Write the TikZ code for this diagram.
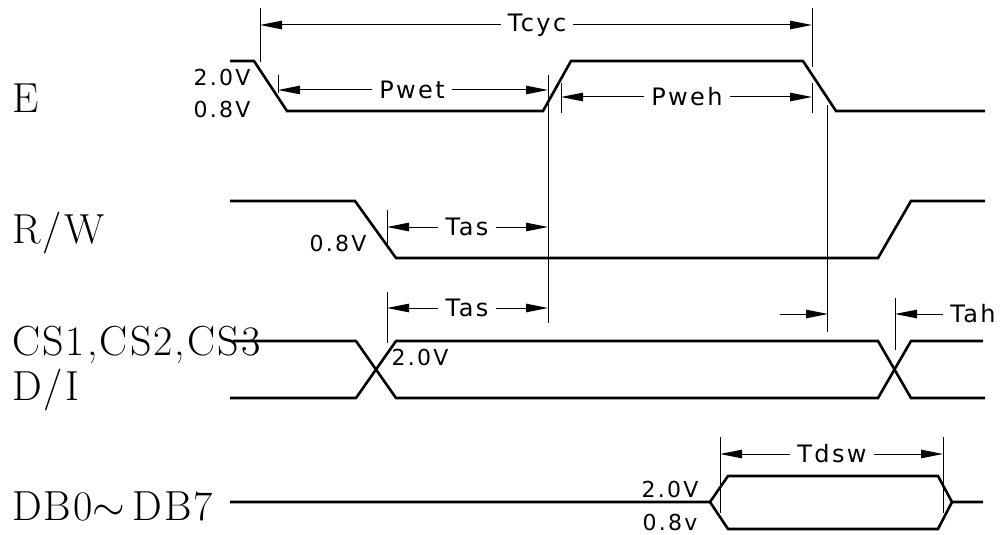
\RequirePackage{fix-cm}
\documentclass[tikz,border=0pt]{standalone}
\usepackage{fontspec}
\usetikzlibrary{arrows.meta}
\newfontfamily\cadfont{DejaVu Sans}[LetterSpace=10]
\newfontfamily\namefont{Latin Modern Roman}[LetterSpace=5]
\begin{document}
\begin{tikzpicture}[x=1pt,y=-1pt,
  sig/.style={line width=2.6pt, line join=miter},
  ext/.style={line width=1pt},
  dim/.style={line width=1pt,-{Triangle[length=22pt,width=8.5pt]}},
  dimtxt/.style={font=\cadfont\fontsize{24}{24}\selectfont, inner xsep=7pt, inner ysep=0pt},
  volt/.style={font=\cadfont\fontsize{22}{22}\selectfont, inner sep=0pt},
  signame/.style={font=\namefont\fontsize{42}{42}\selectfont, anchor=base west, inner sep=0pt}]
\useasboundingbox (0,0) rectangle (1002,535);

% signal names
\node[signame] (nE)  at (12,112) {E};
\node[signame] (nRW) at (12,243) {R/W};
\node[signame] (nCS) at (12,355) {CS1,CS2,CS3};
\node[signame] (nDI) at (12,400) {D/I};
\node[signame] (nDB) at (12,520) {DB0$\sim$\,DB7};

% waveforms
\draw[sig] (230,61) -- (254,61) -- (287,111) -- (543,111) -- (571,61) -- (803,61) -- (836,111) -- (985,111);
\draw[sig] (230,201) -- (355,201) -- (396,258) -- (878,258) -- (911,201) -- (985,201);
\draw[sig] (233,341) -- (356,341) -- (396,398) -- (878,398) -- (911,341) -- (983,341);
\draw[sig] (230,398) -- (356,398) -- (396,341) -- (878,341) -- (911,398) -- (985,398);
\draw[sig] (230,502) -- (710,502) -- (728,476) -- (938,476) -- (952,502) -- (983,502);
\draw[sig] (710,502) -- (728,529) -- (938,529) -- (952,502);

% extension lines
\draw[ext] (260,8) -- (260,62);
\draw[ext] (812,8) -- (812,67);
\draw[ext] (278,75) -- (278,93);
\draw[ext] (548,75) -- (548,323);
\draw[ext] (561,83) -- (561,113);
\draw[ext] (812,83) -- (812,113);
\draw[ext] (827,105) -- (827,332);
\draw[ext] (387,210) -- (387,245);
\draw[ext] (387,292) -- (387,343);
\draw[ext] (895,298) -- (895,350);
\draw[ext] (720,437) -- (720,513);
\draw[ext] (943,437) -- (943,513);

% arrow end points
\coordinate (tcycA) at (260,25);
\coordinate (tcycB) at (812,25);
\coordinate (pwetA) at (278,90);
\coordinate (pwetB) at (548,90);
\coordinate (pwehA) at (561,97);
\coordinate (pwehB) at (812,97);
\coordinate (tas1A) at (387,227);
\coordinate (tas1B) at (548,227);
\coordinate (tas2A) at (387,308);
\coordinate (tas2B) at (548,308);
\coordinate (tahA)  at (895,314);
\coordinate (tahS)  at (780,314);
\coordinate (tahE)  at (828,314);
\coordinate (tdswA) at (720,454);
\coordinate (tdswB) at (943,454);

% dimension labels
\node[dimtxt] (tcyc) at (537,25) {Tcyc};
\node[dimtxt] (pwet) at (412,90) {Pwet};
\node[dimtxt] (pweh) at (687,97) {Pweh};
\node[dimtxt] (tas1) at (467,227) {Tas};
\node[dimtxt] (tas2) at (467,308) {Tas};
\node[dimtxt] (tah)  at (973,314) {Tah};
\node[dimtxt] (tdsw) at (832,454) {Tdsw};

\draw[dim] (tcyc.west) -- (tcycA);
\draw[dim] (tcyc.east) -- (tcycB);
\draw[dim] (pwet.west) -- (pwetA);
\draw[dim] (pwet.east) -- (pwetB);
\draw[dim] (pweh.west) -- (pwehA);
\draw[dim] (pweh.east) -- (pwehB);
\draw[dim] (tas1.west) -- (tas1A);
\draw[dim] (tas1.east) -- (tas1B);
\draw[dim] (tas2.west) -- (tas2A);
\draw[dim] (tas2.east) -- (tas2B);
\draw[dim] (tah.west) -- (tahA);
\draw[dim] (tahS) -- (tahE);
\draw[dim] (tdsw.west) -- (tdswA);
\draw[dim] (tdsw.east) -- (tdswB);

% voltage labels
\node[volt] (e20)  at (222,77)  {2.0V};
\node[volt] (e08)  at (222,109) {0.8V};
\node[volt] (rw08) at (338,243) {0.8V};
\node[volt] (cs20) at (420,357) {2.0V};
\node[volt] (db20) at (670,489) {2.0V};
\node[volt] (db08) at (670,522) {0.8v};
\end{tikzpicture}
\end{document}
